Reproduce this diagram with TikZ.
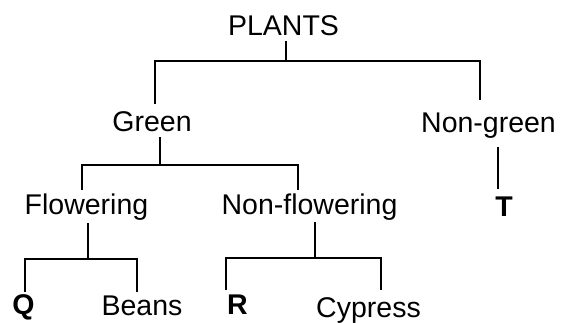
\documentclass[tikz,border=0pt]{standalone}
\usepackage{fontspec}
\setmainfont{Liberation Sans}
\begin{document}
\begin{tikzpicture}[x=1pt,y=-1pt,
  lbl/.style={anchor=base,inner sep=0pt,font=\fontsize{28.5}{30}\selectfont},
  blbl/.style={lbl,font=\fontsize{28.5}{30}\selectfont\bfseries},
  conn/.style={line width=1.9pt,line cap=rect}]
\useasboundingbox[fill=white] (0,0) rectangle (569,322);
% text nodes
\node[lbl] (plants) at (283.5,35) {PLANTS};
\node[lbl] (green) at (152,131) {Green};
\node[lbl] (nongreen) at (488.5,132) {Non-green};
\node[lbl] (flow) at (86.5,214) {Flowering};
\node[lbl] (nonflow) at (309.5,214) {Non-flowering};
\node[blbl] (t) at (504,216) {T};
\node[blbl] (q) at (23.5,314) {Q};
\node[lbl] (beans) at (142,315) {Beans};
\node[blbl] (r) at (237.5,314) {R};
\node[lbl] (cypress) at (368.5,317) {Cypress};
% junction coordinates
\coordinate (p0) at (286,42);  \coordinate (p1) at (286,61);
\coordinate (pg) at (155,103); \coordinate (pn) at (480,99);
\coordinate (g0) at (160,138); \coordinate (g1) at (160,165);
\coordinate (gf) at (82,189);  \coordinate (gn) at (298,189);
\coordinate (n0) at (498,148); \coordinate (n1) at (498,188);
\coordinate (f0) at (88,224);  \coordinate (f1) at (88,259);
\coordinate (fq) at (25,291);  \coordinate (fb) at (137,291);
\coordinate (m0) at (315,223); \coordinate (m1) at (315,258);
\coordinate (mr) at (226,289); \coordinate (mc) at (381,289);
% connectors
\draw[conn] (p0) -- (p1);
\draw[conn] (pg) |- (p1) -| (pn);
\draw[conn] (g0) -- (g1);
\draw[conn] (gf) |- (g1) -| (gn);
\draw[conn] (n0) -- (n1);
\draw[conn] (f0) -- (f1);
\draw[conn] (fq) |- (f1) -| (fb);
\draw[conn] (m0) -- (m1);
\draw[conn] (mr) |- (m1) -| (mc);
\end{tikzpicture}
\end{document}
